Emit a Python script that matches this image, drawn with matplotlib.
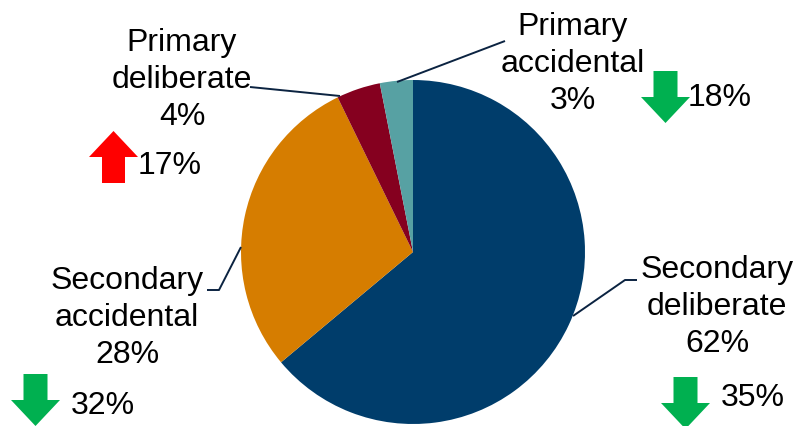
import matplotlib.pyplot as plt
from matplotlib.patches import FancyArrow

plt.rcParams['font.family'] = ['Liberation Sans', 'DejaVu Sans']

# Fire types, share of incidents and year-on-year change
categories = ['Secondary\ndeliberate', 'Secondary\naccidental', 'Primary\ndeliberate', 'Primary\naccidental']
shares = [62, 28, 4, 3]
changes = [-35, -32, 17, -18]
colors = ['#003D6B', '#D67D00', '#85001F', '#57A1A3']

W, H = 796, 427
fig = plt.figure(figsize=(W / 100, H / 100), dpi=100)
ax = fig.add_axes([0, 0, 1, 1])

cx, cy, r = 413, H - 253, 172
ax.pie(shares, colors=colors, startangle=90, counterclock=False,
       center=(cx, cy), radius=r, frame=True,
       wedgeprops=dict(linewidth=0))
ax.set_xlim(0, W)
ax.set_ylim(0, H)
ax.set_aspect('equal')
ax.axis('off')

# label positions (centre of text block) and leader lines, in pixel coords from top
label_pos = [(717, 307), (127, 318), (182, 80), (573, 64)]
leaders = [
    [(637, 281), (625, 281), (573, 317)],
    [(207, 291), (219, 291), (241, 248)],
    [(250, 88), (340, 97)],
    [(505, 42), (397, 83)],
]
# arrow (left x, top y) and change-label position
arrow_pos = [(661, 378), (11, 375), (89, 132), (641, 72)]
change_pos = [(753, 398), (103, 406), (170, 166), (720, 98)]

for cat, s, (lx, ly), line in zip(categories, shares, label_pos, leaders):
    ax.text(lx, H - ly, f'{cat}\n{s}%', ha='center', va='center',
            fontsize=23, linespacing=1.3, color='black')
    xs = [p[0] for p in line]
    ys = [H - p[1] for p in line]
    ax.plot(xs, ys, color='#0B2341', lw=1.4, solid_capstyle='butt')

aw, ah = 49, 52
for ch, (axx, ayy), (tx, ty) in zip(changes, arrow_pos, change_pos):
    x = axx + aw / 2
    if ch > 0:
        arr = FancyArrow(x, H - (ayy + ah), 0, ah, width=23, head_width=aw,
                         head_length=26, length_includes_head=True,
                         color='#FF0000', lw=0)
    else:
        arr = FancyArrow(x, H - ayy, 0, -ah, width=24, head_width=aw,
                         head_length=26, length_includes_head=True,
                         color='#00B050', lw=0)
    ax.add_patch(arr)
    ax.text(tx, H - ty, f'{abs(ch)}%', ha='center', va='center',
            fontsize=23, color='black')

fig.savefig('out.png', dpi=100)
